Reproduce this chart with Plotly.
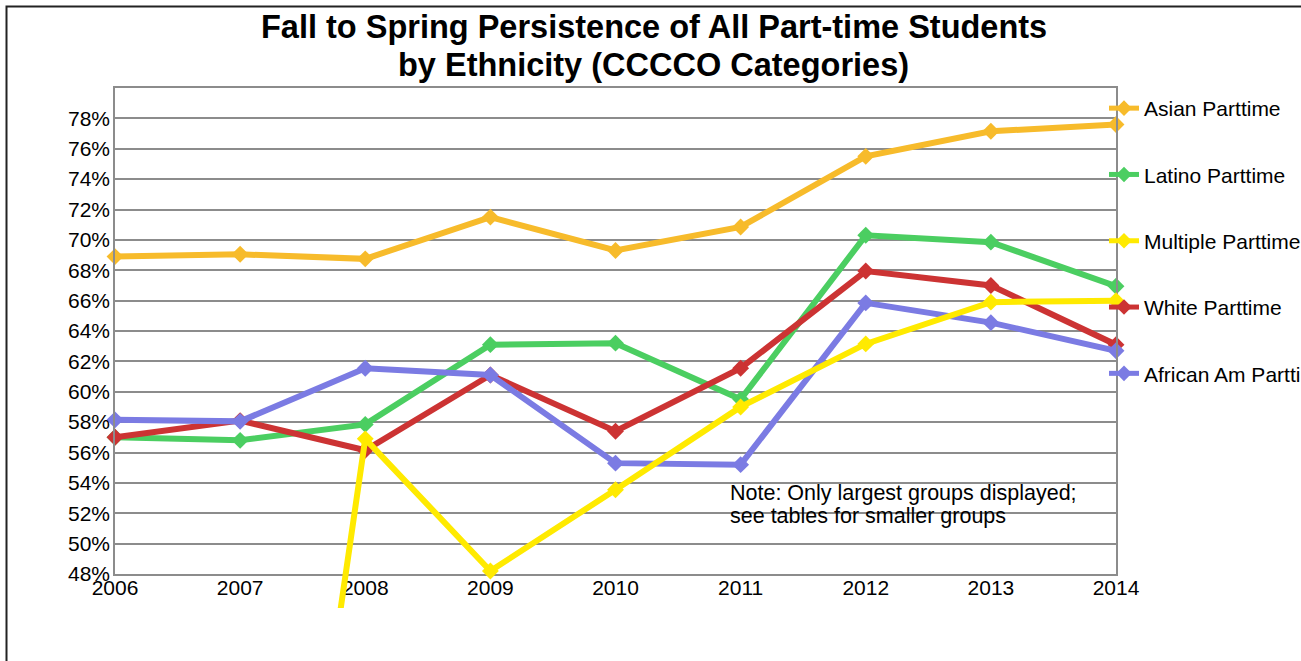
import plotly.graph_objects as go

# ---------------- data ----------------
years = [2006, 2007, 2008, 2009, 2010, 2011, 2012, 2013, 2014]
asian = [68.9, 69.05, 68.75, 71.5, 69.3, 70.85, 75.5, 77.15, 77.6]
latino = [57.0, 56.8, 57.85, 63.1, 63.2, 59.5, 70.3, 69.85, 66.95]
multiple = [0.0, 0.0, 56.9, 48.2, 53.55, 59.0, 63.15, 65.9, 66.0]
white = [57.0, 58.1, 56.15, 61.1, 57.4, 61.55, 67.95, 67.0, 63.1]
african = [58.15, 58.05, 61.55, 61.1, 55.3, 55.2, 65.85, 64.55, 62.7]
series_names = ["Asian Parttime", "Latino Parttime", "Multiple Parttime",
                "White Parttime", "African Am Parttime"]
y_tick_vals = [48, 50, 52, 54, 56, 58, 60, 62, 64, 66, 68, 70, 72, 74, 76, 78]
y_tick_text = ["48%", "50%", "52%", "54%", "56%", "58%", "60%", "62%",
               "64%", "66%", "68%", "70%", "72%", "74%", "76%", "78%"]
x_tick_text = ["2006", "2007", "2008", "2009", "2010", "2011", "2012", "2013", "2014"]
title_lines = ["Fall to Spring Persistence of All Part-time Students",
               "by Ethnicity (CCCCO Categories)"]
note_lines = ["Note: Only largest groups displayed;",
              "see tables for smaller groups"]

colors = ["#F7BB2B", "#4BCE61", "#FFEA00", "#CC3333", "#7B7BE3"]

# ---------------- geometry ----------------
W, H = 1301, 661
L, R, T, B = 115, 1116, 88, 608       # paper box in pixels
AX_BOTTOM = 574                        # main plot bottom
Y_MIN, Y_MAX = 48, 80
px_per_unit = (AX_BOTTOM - T) / (Y_MAX - Y_MIN)
y2_min = Y_MIN - (B - AX_BOTTOM) / px_per_unit


def px2x(px):
    return (px - L) / (R - L)


def py2y(py):
    return (B - py) / (B - T)


FONT = "Liberation Sans, Arial, sans-serif"

fig = go.Figure()
data = [asian, latino, multiple, white, african]
for i, (name, vals) in enumerate(zip(series_names, data)):
    on2 = (i == 2)
    fig.add_trace(go.Scatter(
        x=years, y=vals, name=name, mode="lines+markers",
        line=dict(color=colors[i], width=6),
        marker=dict(symbol="diamond", size=13, color=colors[i]),
        cliponaxis=False,
        legendgroup=name,
        xaxis="x2" if on2 else "x",
        yaxis="y2" if on2 else "y",
        hoverinfo="x+y+name",
    ))

grid_col = "#8c8c8c"
fig.update_layout(
    width=W, height=H,
    margin=dict(l=L, r=W - R, t=T, b=H - B, pad=0, autoexpand=False),
    paper_bgcolor="white", plot_bgcolor="rgba(0,0,0,0)",
    font=dict(family=FONT, size=21, color="black"),
    showlegend=True,
    legend=dict(xref="container", yref="container",
                x=1104 / W, y=1 - 88 / H, xanchor="left", yanchor="top",
                font=dict(size=21, family=FONT), tracegroupgap=36,
                itemsizing="constant",
                bgcolor="rgba(0,0,0,0)", borderwidth=0),
    xaxis=dict(range=[2006, 2014], domain=[0, 1], anchor="y",
               tickvals=years, ticktext=x_tick_text,
               showgrid=False, zeroline=False,
               showline=True, linecolor=grid_col, linewidth=1.5, mirror=True,
               ticks="", tickfont=dict(size=21), ticklabelstandoff=-6),
    yaxis=dict(range=[Y_MIN, Y_MAX], domain=[py2y(AX_BOTTOM), 1], anchor="x",
               tickvals=y_tick_vals, ticktext=y_tick_text,
               showgrid=True, gridcolor=grid_col, gridwidth=1.5,
               zeroline=False, showline=True, linecolor=grid_col,
               linewidth=1.5, mirror=True, ticks="", tickfont=dict(size=21),
               ticklabelstandoff=-1),
    xaxis2=dict(range=[2006, 2014], domain=[0, 1], anchor="y2", visible=False),
    yaxis2=dict(range=[y2_min, Y_MAX], domain=[0, 1], anchor="x2", visible=False),
)

# outer frame
fig.add_shape(type="rect", xref="paper", yref="paper",
              x0=px2x(6.5), x1=px2x(1420), y0=py2y(720), y1=py2y(6.5),
              line=dict(color="#222222", width=2), fillcolor="rgba(0,0,0,0)",
              layer="below")

# title (two lines)
for txt, cy in zip(title_lines, [27, 65]):
    fig.add_annotation(text="<b>%s</b>" % txt, xref="paper", yref="paper",
                       x=px2x(653.5), y=py2y(cy), xanchor="center", yanchor="middle",
                       showarrow=False, font=dict(size=32.5, family=FONT, color="black"))

# note (two lines)
for txt, cy in zip(note_lines, [493, 516]):
    fig.add_annotation(text=txt, xref="paper", yref="paper",
                       x=px2x(728), y=py2y(cy), xanchor="left", yanchor="middle",
                       showarrow=False, font=dict(size=21.5, family=FONT, color="black"))

fig.write_html(
    "out.html",
    config={"displayModeBar": False},
    post_script="document.body.style.margin='0';document.body.style.overflow='hidden';",
)
